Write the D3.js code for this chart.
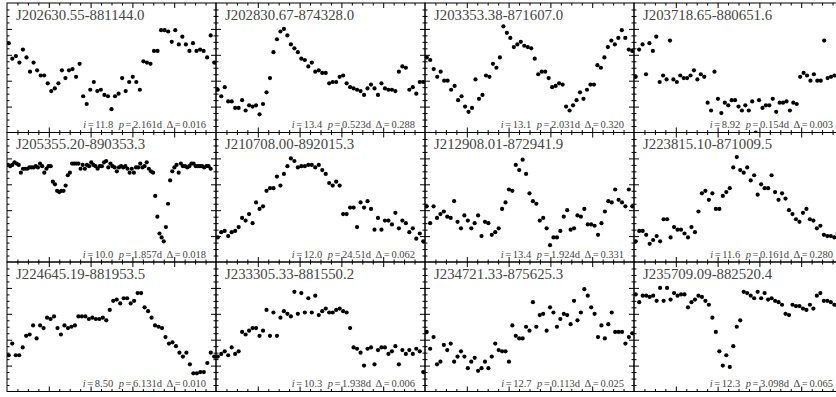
<!DOCTYPE html>
<html>
<head>
<meta charset="utf-8">
<script src="https://cdn.jsdelivr.net/npm/d3@7/dist/d3.min.js"></script>
<style>
  body { margin: 0; background: #fff; }
  svg { display: block; }
  .title { font-family: "Liberation Serif", "DejaVu Serif", serif; font-size: 14.8px; fill: #454545; }
  .cap { font-family: "Liberation Serif", "DejaVu Serif", serif; font-size: 10.5px; fill: #454545; }
  .axis line, .axis path { stroke: #000; }
</style>
</head>
<body>
<div id="chart"></div>
<script>
// star ids and fit numbers, one entry per panel
const names = ['J202630.55-881144.0', 'J202830.67-874328.0', 'J203353.38-871607.0', 'J203718.65-880651.6',
  'J205355.20-890353.3', 'J210708.00-892015.3', 'J212908.01-872941.9', 'J223815.10-871009.5',
  'J224645.19-881953.5', 'J233305.33-881550.2', 'J234721.33-875625.3', 'J235709.09-882520.4'];
const mags = ['11.8', '13.4', '13.1', '8.92', '10.0', '12.0', '13.4', '11.6', '8.50', '10.3', '12.7', '12.3'];
const periods = ['2.161', '0.523', '2.031', '0.154', '1.857', '24.51', '1.924', '0.161', '6.131', '1.938', '0.113', '3.098'];
const deltas = ['0.016', '0.288', '0.320', '0.003', '0.018', '0.062', '0.331', '0.280', '0.010', '0.006', '0.025', '0.065'];

// folded light curves, normalised brightness 0..100 (bottom..top of panel), in phase order
const lc1 = [69, 57, 59, 54, 64, 58, 47, 54, 48, 44, 44, 38, 32, 34, 38, 48, 42, 48, 49, 43, 53, 28, 22, 33, 39, 32, 33, 29, 28, 18,
  28, 30, 42, 32, 39, 43, 39, 33, 55, 54, 53, 63, 63, 79, 79, 78, 70, 79, 68, 74, 68, 63, 69, 63, 64, 63, 58, 75, 54];
const lc2 = [33, 28, 35, 24, 24, 19, 19, 25, 17, 21, 20, 21, 14, 22, 31, 42, 62, 72, 78, 80, 75, 68, 65, 62, 57, 56, 51, 54, 47, 48,
  46, 46, 38, 39, 39, 43, 44, 38, 35, 34, 33, 32, 29, 34, 37, 34, 29, 38, 34, 33, 33, 32, 47, 51, 50, 33, 35, 30, 39, 39];
const lc3 = [58, 56, 49, 43, 47, 40, 40, 33, 36, 25, 28, 20, 16, 19, 41, 26, 29, 44, 43, 53, 50, 58, 82, 77, 73, 66, 68, 70, 67, 66,
  65, 57, 45, 47, 47, 42, 35, 36, 38, 37, 20, 17, 21, 25, 31, 26, 33, 37, 37, 52, 50, 58, 66, 71, 68, 73, 79, 73, 64, 63];
const lc4 = [43, 64, 68, 45, 69, 63, 74, 39, 44, 41, 71, 41, 39, 44, 42, 42, 44, 48, 41, 45, 43, 23, 17, 47, 26, 15, 23, 21, 25, 25,
  20, 17, 21, 17, 24, 0, 25, 19, 21, 21, 26, 16, 23, 23, 24, 17, 23, 22, 43, 46, 44, 40, 45, 40, 40, 71, 42, 43, 44];
const lc5 = [75, 74, 75, 77, 76, 75, 69, 72, 72, 72, 73, 73, 73, 74, 73, 76, 74, 69, 72, 74, 74,
  62, 60, 55, 54, 55, 55, 59, 67,
  69, 76, 76, 76, 76, 72, 75, 72, 75, 74, 77, 75, 74, 72, 74, 74, 77, 78, 73, 76, 74, 73, 70, 73, 74, 73, 74, 72, 69, 72,
  69, 73, 73, 76, 73, 74, 77, 72, 70, 69,
  51, 35, 22, 19, 16, 27, 45, 63, 70,
  73, 75, 69, 76, 74, 74, 73, 74, 76, 76, 74, 74, 74, 74, 73, 74, 74, 72];
const lc6 = [19, 23, 24, 20, 23, 24, 27, 34, 32, 37, 30, 46, 41, 43, 55, 57, 57, 66, 59, 68, 74, 80, 78, 73, 74, 74, 75, 75, 73, 75,
  71, 68, 61, 59, 62, 59, 37, 37, 42, 42, 27, 46, 42, 47, 41, 25, 34, 25, 32, 32, 29, 38, 26, 32, 30, 23, 26, 18, 22, 16];
const lc7 = [43, 30, 43, 34, 37, 39, 35, 34, 47, 31, 26, 36, 32, 26, 30, 36, 20, 31, 30, 21, 23, 26, 41, 46, 56, 55, 75, 71, 79, 68,
  53, 47, 45, 32, 34, 26, 13, 19, 19, 24, 35, 40, 25, 26, 36, 35, 41, 29, 29, 28, 21, 30, 39, 47, 46, 56, 48, 46, 43, 56, 43];
const lc8 = [16, 24, 24, 21, 14, 17, 20, 16, 33, 33, 19, 27, 25, 25, 22, 19, 27, 23, 39, 53, 55, 48, 53, 41, 41, 51, 54, 57, 73, 81,
  71, 69, 73, 63, 67, 52, 60, 57, 57, 67, 54, 48, 53, 49, 40, 37, 33, 31, 38, 41, 33, 32, 26, 28, 21, 20, 20, 19, 22];
const lc9 = [28, 37, 28, 28, 34, 43, 44, 51, 41, 51, 49, 57, 56, 58, 49, 44, 51, 49, 50, 51, 58, 58, 58, 56, 57, 56, 56, 57, 55, 63,
  70, 71, 68, 72, 72, 68, 70, 76, 76, 65, 62, 57, 51, 50, 49, 42, 37, 38, 35, 30, 27, 30, 21, 14, 14, 15, 15, 22, 30, 27];
const lc10 = [27, 29, 31, 28, 34, 29, 31, 46, 44, 47, 49, 49, 43, 47, 63, 43, 61, 43, 57, 62, 60, 58, 77, 60, 76, 61, 72, 61, 74, 59,
  62, 64, 61, 61, 63, 64, 62, 61, 49, 34, 33, 30, 20, 33, 34, 21, 32, 34, 34, 29, 31, 35, 21, 32, 29, 32, 29, 33, 31, 15];
const lc11 = [46, 33, 42, 21, 23, 36, 32, 37, 23, 27, 31, 27, 18, 23, 26, 16, 18, 23, 18, 27, 37, 32, 31, 31, 23, 51, 43, 41, 41, 50,
  47, 69, 50, 59, 60, 47, 65, 61, 50, 56, 60, 59, 52, 70, 55, 61, 79, 74, 65, 60, 42, 51, 41, 52, 61, 46, 46, 46, 37, 42, 45];
const lc12 = [75, 69, 74, 74, 73, 74, 70, 80, 70, 80, 71, 76, 74, 75, 75, 65, 69, 71, 74, 73, 70, 67, 57, 46, 31, 20, 28, 19, 35, 50,
  55, 77, 76, 74, 72, 77, 72, 76, 71, 72, 70, 69, 67, 60, 59, 67, 66, 66, 64, 63, 67, 64, 74, 76, 70, 70, 69, 67];
const series = [lc1, lc2, lc3, lc4, lc5, lc6, lc7, lc8, lc9, lc10, lc11, lc12];
// phase bins per panel (right column runs past the crop)
const bins = [59, 60, 60, 61, 98, 60, 61, 60, 60, 60, 61, 60];

const xMajor = [0.2, 0.4, 0.6, 0.8];
const xMinor = d3.range(1, 20).map(d => d / 20).filter(d => d % 0.2 > 0.01 && d % 0.2 < 0.19);
const yMajor = [20, 40, 60, 80];
const yMinor = d3.range(5, 100, 5).filter(d => d % 20 !== 0);

const W = 836, H = 397;
const left0 = 7, top0 = 3, pw = 209, ph = 129.5;

const svg = d3.select('#chart').append('svg')
  .attr('width', W)
  .attr('height', H);

names.forEach((name, k) => {
  const col = k % 4, row = Math.floor(k / 4);
  const g = svg.append('g')
    .attr('transform', `translate(${left0 + col * pw},${top0 + row * ph})`);

  const x = d3.scaleLinear().domain([0, 1]).range([0, pw]);
  const y = d3.scaleLinear().domain([0, 100]).range([ph, 0]);

  g.append('clipPath').attr('id', `clip${k}`)
    .append('rect').attr('width', pw).attr('height', ph);

  // points
  g.append('g')
    .attr('clip-path', `url(#clip${k})`)
    .selectAll('circle')
    .data(series[k])
    .join('circle')
    .attr('cx', (d, i) => x((i + 0.5) / bins[k]))
    .attr('cy', d => y(d))
    .attr('r', 2.1)
    .attr('fill', '#000');

  // inward ticks on all four sides
  const addAxis = (axis, tx, ty, vals, len) => {
    g.append('g')
      .attr('class', 'axis')
      .attr('transform', `translate(${tx},${ty})`)
      .call(axis.tickValues(vals).tickSize(-len).tickFormat(''))
      .call(a => a.select('.domain').remove());
  };
  addAxis(d3.axisBottom(x), 0, ph, xMajor, 5);
  addAxis(d3.axisBottom(x), 0, ph, xMinor, 2.5);
  addAxis(d3.axisTop(x), 0, 0, xMajor, 5);
  addAxis(d3.axisTop(x), 0, 0, xMinor, 2.5);
  addAxis(d3.axisLeft(y), 0, 0, yMajor, 5);
  addAxis(d3.axisLeft(y), 0, 0, yMinor, 2.5);
  addAxis(d3.axisRight(y), pw, 0, yMajor, 5);
  addAxis(d3.axisRight(y), pw, 0, yMinor, 2.5);

  g.append('rect')
    .attr('width', pw)
    .attr('height', ph)
    .attr('fill', 'none')
    .attr('stroke', '#000')
    .attr('stroke-width', 1);

  g.append('text')
    .attr('class', 'title')
    .attr('x', 9)
    .attr('y', 16.5)
    .text(name);

  // caption, TeX-like spacing around "="
  const parts = [
    { t: 'i', it: true, dx: 0 }, { t: '=', dx: 1.6 }, { t: mags[k], dx: 1.6 },
    { t: 'p', it: true, dx: 5.5 }, { t: '=', dx: 1.6 }, { t: `${periods[k]}d`, dx: 1.6 },
    { t: '\u0394', dx: 4.5 }, { t: '=', dx: 1.6 }, { t: deltas[k], dx: 1.6 }
  ];
  g.append('text')
    .attr('class', 'cap')
    .attr('x', pw - 10)
    .attr('y', ph - 4.5)
    .attr('text-anchor', 'end')
    .selectAll('tspan')
    .data(parts)
    .join('tspan')
    .attr('dx', d => d.dx)
    .attr('font-style', d => d.it ? 'italic' : null)
    .text(d => d.t);
});
</script>
</body>
</html>
